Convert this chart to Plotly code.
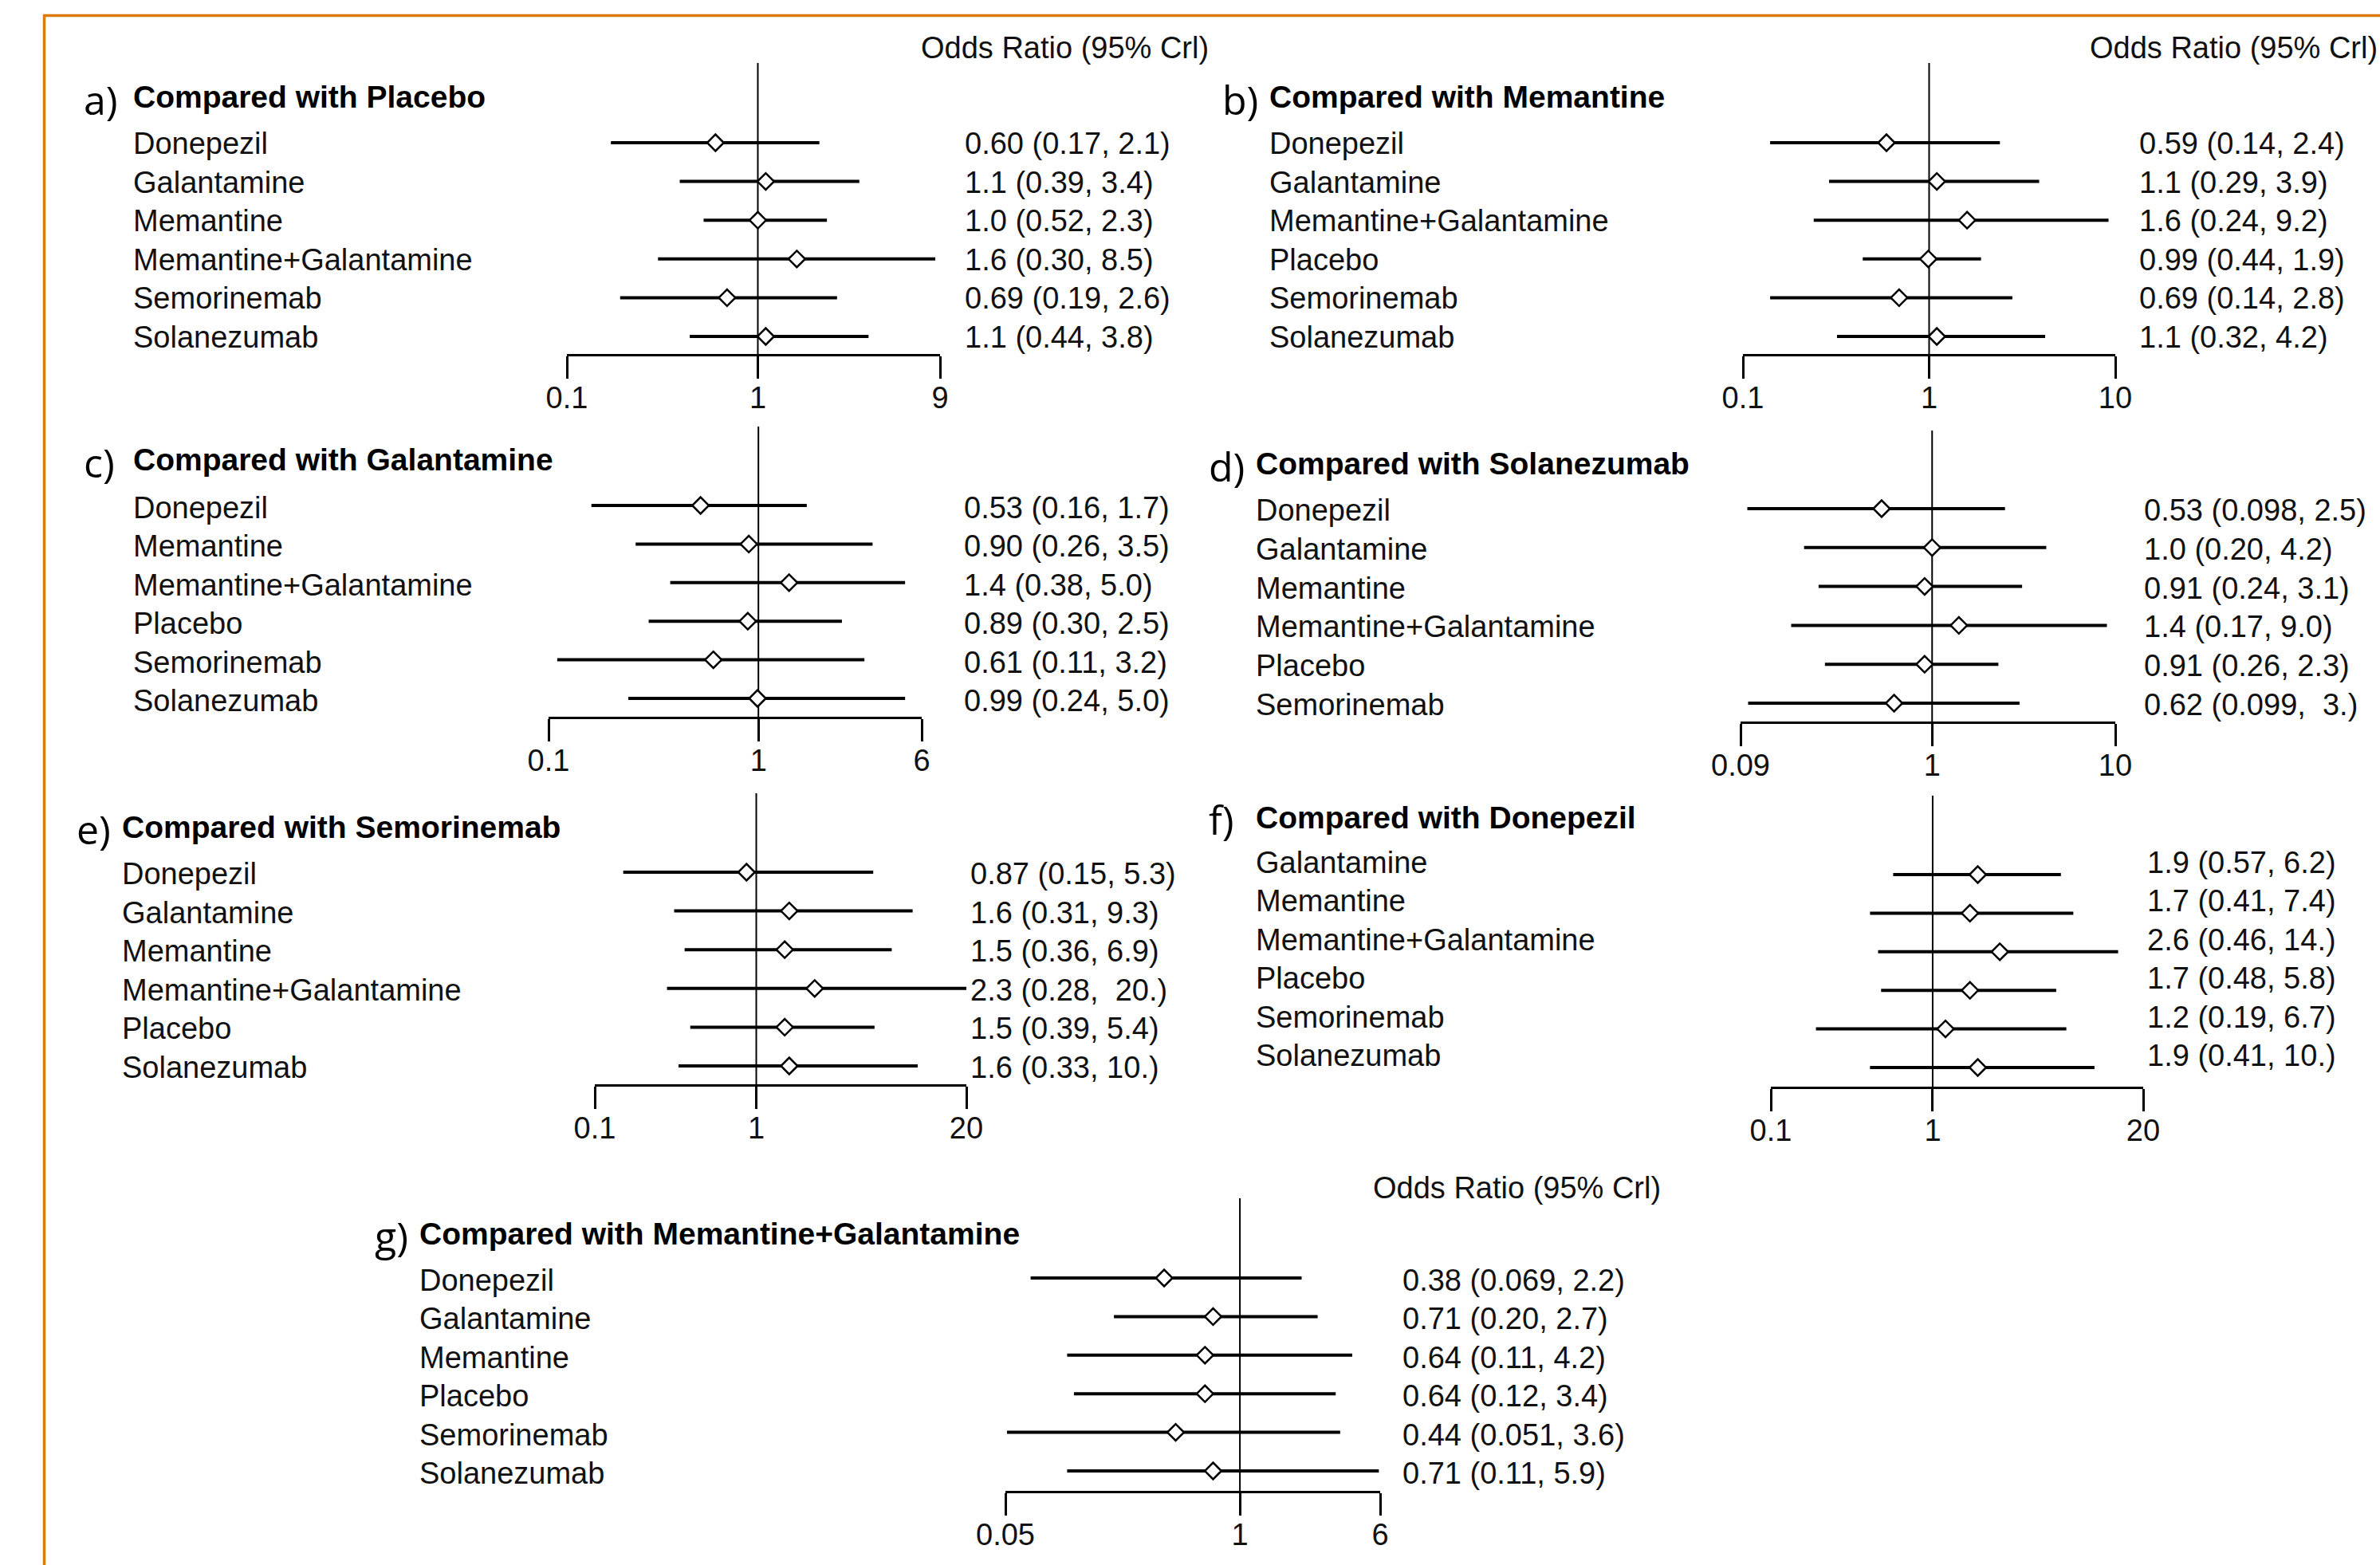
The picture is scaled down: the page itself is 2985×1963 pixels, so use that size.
import math
import plotly.graph_objects as go

W, H = 2985, 1963

# ---------------- data ----------------
panel_letters = ["a)", "b)", "c)", "d)", "e)", "f)", "g)"]
panel_titles = [
    "Compared with Placebo",
    "Compared with Memantine",
    "Compared with Galantamine",
    "Compared with Solanezumab",
    "Compared with Semorinemab",
    "Compared with Donepezil",
    "Compared with Memantine+Galantamine",
]

placebo_names = ["Donepezil", "Galantamine", "Memantine", "Memantine+Galantamine", "Semorinemab", "Solanezumab"]
placebo_or = [0.60, 1.1, 1.0, 1.6, 0.69, 1.1]
placebo_lo = [0.17, 0.39, 0.52, 0.30, 0.19, 0.44]
placebo_hi = [2.1, 3.4, 2.3, 8.5, 2.6, 3.8]
placebo_text = ["0.60 (0.17, 2.1)", "1.1 (0.39, 3.4)", "1.0 (0.52, 2.3)", "1.6 (0.30, 8.5)", "0.69 (0.19, 2.6)", "1.1 (0.44, 3.8)"]

memantine_names = ["Donepezil", "Galantamine", "Memantine+Galantamine", "Placebo", "Semorinemab", "Solanezumab"]
memantine_or = [0.59, 1.1, 1.6, 0.99, 0.69, 1.1]
memantine_lo = [0.14, 0.29, 0.24, 0.44, 0.14, 0.32]
memantine_hi = [2.4, 3.9, 9.2, 1.9, 2.8, 4.2]
memantine_text = ["0.59 (0.14, 2.4)", "1.1 (0.29, 3.9)", "1.6 (0.24, 9.2)", "0.99 (0.44, 1.9)", "0.69 (0.14, 2.8)", "1.1 (0.32, 4.2)"]

galantamine_names = ["Donepezil", "Memantine", "Memantine+Galantamine", "Placebo", "Semorinemab", "Solanezumab"]
galantamine_or = [0.53, 0.90, 1.4, 0.89, 0.61, 0.99]
galantamine_lo = [0.16, 0.26, 0.38, 0.30, 0.11, 0.24]
galantamine_hi = [1.7, 3.5, 5.0, 2.5, 3.2, 5.0]
galantamine_text = ["0.53 (0.16, 1.7)", "0.90 (0.26, 3.5)", "1.4 (0.38, 5.0)", "0.89 (0.30, 2.5)", "0.61 (0.11, 3.2)", "0.99 (0.24, 5.0)"]

solanezumab_names = ["Donepezil", "Galantamine", "Memantine", "Memantine+Galantamine", "Placebo", "Semorinemab"]
solanezumab_or = [0.53, 1.0, 0.91, 1.4, 0.91, 0.62]
solanezumab_lo = [0.098, 0.20, 0.24, 0.17, 0.26, 0.099]
solanezumab_hi = [2.5, 4.2, 3.1, 9.0, 2.3, 3.0]
solanezumab_text = ["0.53 (0.098, 2.5)", "1.0 (0.20, 4.2)", "0.91 (0.24, 3.1)", "1.4 (0.17, 9.0)", "0.91 (0.26, 2.3)", "0.62 (0.099,  3.)"]

semorinemab_names = ["Donepezil", "Galantamine", "Memantine", "Memantine+Galantamine", "Placebo", "Solanezumab"]
semorinemab_or = [0.87, 1.6, 1.5, 2.3, 1.5, 1.6]
semorinemab_lo = [0.15, 0.31, 0.36, 0.28, 0.39, 0.33]
semorinemab_hi = [5.3, 9.3, 6.9, 20.0, 5.4, 10.0]
semorinemab_text = ["0.87 (0.15, 5.3)", "1.6 (0.31, 9.3)", "1.5 (0.36, 6.9)", "2.3 (0.28,  20.)", "1.5 (0.39, 5.4)", "1.6 (0.33, 10.)"]

donepezil_names = ["Galantamine", "Memantine", "Memantine+Galantamine", "Placebo", "Semorinemab", "Solanezumab"]
donepezil_or = [1.9, 1.7, 2.6, 1.7, 1.2, 1.9]
donepezil_lo = [0.57, 0.41, 0.46, 0.48, 0.19, 0.41]
donepezil_hi = [6.2, 7.4, 14.0, 5.8, 6.7, 10.0]
donepezil_text = ["1.9 (0.57, 6.2)", "1.7 (0.41, 7.4)", "2.6 (0.46, 14.)", "1.7 (0.48, 5.8)", "1.2 (0.19, 6.7)", "1.9 (0.41, 10.)"]

memgal_names = ["Donepezil", "Galantamine", "Memantine", "Placebo", "Semorinemab", "Solanezumab"]
memgal_or = [0.38, 0.71, 0.64, 0.64, 0.44, 0.71]
memgal_lo = [0.069, 0.20, 0.11, 0.12, 0.051, 0.11]
memgal_hi = [2.2, 2.7, 4.2, 3.4, 3.6, 5.9]
memgal_text = ["0.38 (0.069, 2.2)", "0.71 (0.20, 2.7)", "0.64 (0.11, 4.2)", "0.64 (0.12, 3.4)", "0.44 (0.051, 3.6)", "0.71 (0.11, 5.9)"]

axis_ticks = [[0.1, 1, 9], [0.1, 1, 10], [0.1, 1, 6], [0.09, 1, 10], [0.1, 1, 20], [0.1, 1, 20], [0.05, 1, 6]]
axis_ticktext = [["0.1", "1", "9"], ["0.1", "1", "10"], ["0.1", "1", "6"], ["0.09", "1", "10"],
                 ["0.1", "1", "20"], ["0.1", "1", "20"], ["0.05", "1", "6"]]

header_text = "Odds Ratio (95% Crl)"

panel_data = [
    (placebo_names, placebo_or, placebo_lo, placebo_hi, placebo_text),
    (memantine_names, memantine_or, memantine_lo, memantine_hi, memantine_text),
    (galantamine_names, galantamine_or, galantamine_lo, galantamine_hi, galantamine_text),
    (solanezumab_names, solanezumab_or, solanezumab_lo, solanezumab_hi, solanezumab_text),
    (semorinemab_names, semorinemab_or, semorinemab_lo, semorinemab_hi, semorinemab_text),
    (donepezil_names, donepezil_or, donepezil_lo, donepezil_hi, donepezil_text),
    (memgal_names, memgal_or, memgal_lo, memgal_hi, memgal_text),
]

# ---------------- layout geometry (pixels) ----------------
# x_lo, x_hi: axis extent; v_top: top of reference line; axis_y: axis line;
# row0 / row5: first and last row; label_x, value_x, letter_x, title_x, title_y; label_shift
geometry = [
    dict(x_lo=711, x_hi=1179, v_top=79, axis_y=444, row0=179, row5=422,
         label_x=165, value_x=1208, letter_x=103, title_x=165, title_y=122, label_shift=-1),
    dict(x_lo=2186, x_hi=2653, v_top=79, axis_y=444, row0=179, row5=422,
         label_x=1590, value_x=2681, letter_x=1531, title_x=1590, title_y=122, label_shift=-1),
    dict(x_lo=688, x_hi=1156, v_top=535, axis_y=899, row0=634, row5=876,
         label_x=165, value_x=1207, letter_x=103, title_x=165, title_y=577, label_shift=-3),
    dict(x_lo=2183, x_hi=2653, v_top=540, axis_y=905, row0=638, row5=882,
         label_x=1573, value_x=2687, letter_x=1514, title_x=1573, title_y=582, label_shift=-2),
    dict(x_lo=746, x_hi=1212, v_top=995, axis_y=1360, row0=1094, row5=1337,
         label_x=151, value_x=1215, letter_x=94, title_x=151, title_y=1037, label_shift=-2),
    dict(x_lo=2221, x_hi=2688, v_top=998, axis_y=1363, row0=1097, row5=1339,
         label_x=1573, value_x=2691, letter_x=1514, title_x=1573, title_y=1025, label_shift=15),
    dict(x_lo=1261, x_hi=1731, v_top=1503, axis_y=1870, row0=1603, row5=1845,
         label_x=524, value_x=1757, letter_x=468, title_x=524, title_y=1547, label_shift=-3),
]
headers = [(1153, 60), (2619, 60), (1720, 1490)]

FONT = "Liberation Sans, Arial, sans-serif"
TXT = "#111111"
REG = 38
BOLD = 39


def px(x):
    return x / W


def py(y):
    return 1 - y / H


fig = go.Figure()
layout = {}
annotations = []
shapes = []

for i, ((names, ors, los, his, texts), g) in enumerate(zip(panel_data, geometry)):
    xa = "x" if i == 0 else f"x{i + 1}"
    ya = "y" if i == 0 else f"y{i + 1}"
    xkey = "xaxis" if i == 0 else f"xaxis{i + 1}"
    ykey = "yaxis" if i == 0 else f"yaxis{i + 1}"

    n = len(names)
    rows = list(range(n))
    step = (g["row5"] - g["row0"]) / (n - 1)
    y_bottom = (g["axis_y"] - g["row0"]) / step
    y_top = (g["v_top"] - g["row0"]) / step

    ticks = axis_ticks[i]
    layout[xkey] = dict(
        type="log", range=[math.log10(ticks[0]), math.log10(ticks[-1])],
        domain=[px(g["x_lo"]), px(g["x_hi"])], anchor=ya,
        showline=True, linecolor="black", linewidth=3.2, mirror=False,
        ticks="outside", ticklen=28, tickwidth=2.8, tickcolor="black",
        tickvals=ticks, ticktext=axis_ticktext[i], ticklabelstandoff=-9,
        tickfont=dict(family=FONT, size=38, color=TXT),
        showgrid=False, zeroline=False, fixedrange=True, automargin=False,
    )
    layout[ykey] = dict(
        range=[y_bottom, y_top], domain=[py(g["axis_y"]), py(g["v_top"])],
        anchor=xa, visible=False, showgrid=False, zeroline=False, fixedrange=True,
        automargin=False,
    )

    # reference line at OR = 1
    shapes.append(dict(type="line", xref=xa, yref=f"{ya} domain", x0=1, x1=1, y0=0, y1=1,
                       line=dict(color="black", width=2), layer="below"))

    # credible-interval segments
    seg_x, seg_y = [], []
    for k in rows:
        seg_x += [los[k], his[k], None]
        seg_y += [k, k, None]
    fig.add_trace(go.Scatter(x=seg_x, y=seg_y, mode="lines", xaxis=xa, yaxis=ya,
                             line=dict(color="black", width=4), showlegend=False, hoverinfo="skip"))
    # point estimates
    fig.add_trace(go.Scatter(x=ors, y=rows, mode="markers", xaxis=xa, yaxis=ya,
                             marker=dict(symbol="diamond", size=16, color="white",
                                         line=dict(color="black", width=2.5)),
                             showlegend=False, hoverinfo="skip"))

    # treatment names and estimates
    for k in rows:
        annotations.append(dict(x=px(g["label_x"]), y=k, xref="paper", yref=ya, text=names[k],
                                xanchor="left", yanchor="middle", showarrow=False,
                                yshift=g["label_shift"],
                                font=dict(family=FONT, size=REG, color=TXT)))
        annotations.append(dict(x=px(g["value_x"]), y=k, xref="paper", yref=ya, text=texts[k],
                                xanchor="left", yanchor="middle", showarrow=False,
                                yshift=g["label_shift"],
                                font=dict(family=FONT, size=REG, color=TXT)))

    # panel letter and title
    annotations.append(dict(x=px(g["letter_x"]), y=py(g["title_y"] + 3), xref="paper", yref="paper",
                            text=panel_letters[i], xanchor="left", yanchor="middle", showarrow=False,
                            font=dict(family="Open Sans, sans-serif", size=50, color="black")))
    annotations.append(dict(x=px(g["title_x"]), y=py(g["title_y"]), xref="paper", yref="paper",
                            text=f"<b>{panel_titles[i]}</b>", xanchor="left", yanchor="middle",
                            showarrow=False, font=dict(family=FONT, size=BOLD, color="black")))

for hx, hy in headers:
    annotations.append(dict(x=px(hx), y=py(hy), xref="paper", yref="paper", text=header_text,
                            xanchor="left", yanchor="middle", showarrow=False,
                            font=dict(family=FONT, size=REG, color=TXT)))

# orange frame along the top and left edges
ORANGE = "#DA7B0C"
shapes.append(dict(type="line", xref="paper", yref="paper", x0=px(54), x1=1.0, y0=py(19.5), y1=py(19.5),
                   line=dict(color=ORANGE, width=3.5)))
shapes.append(dict(type="line", xref="paper", yref="paper", x0=px(55.5), x1=px(55.5), y0=py(18), y1=0.0,
                   line=dict(color=ORANGE, width=3.5)))

fig.update_layout(
    width=W, height=H, margin=dict(l=0, r=0, t=0, b=0, pad=0, autoexpand=False),
    paper_bgcolor="white", plot_bgcolor="rgba(0,0,0,0)",
    annotations=annotations, shapes=shapes, showlegend=False,
    **layout,
)

fig.write_html("out.html", config={"displayModeBar": False})
